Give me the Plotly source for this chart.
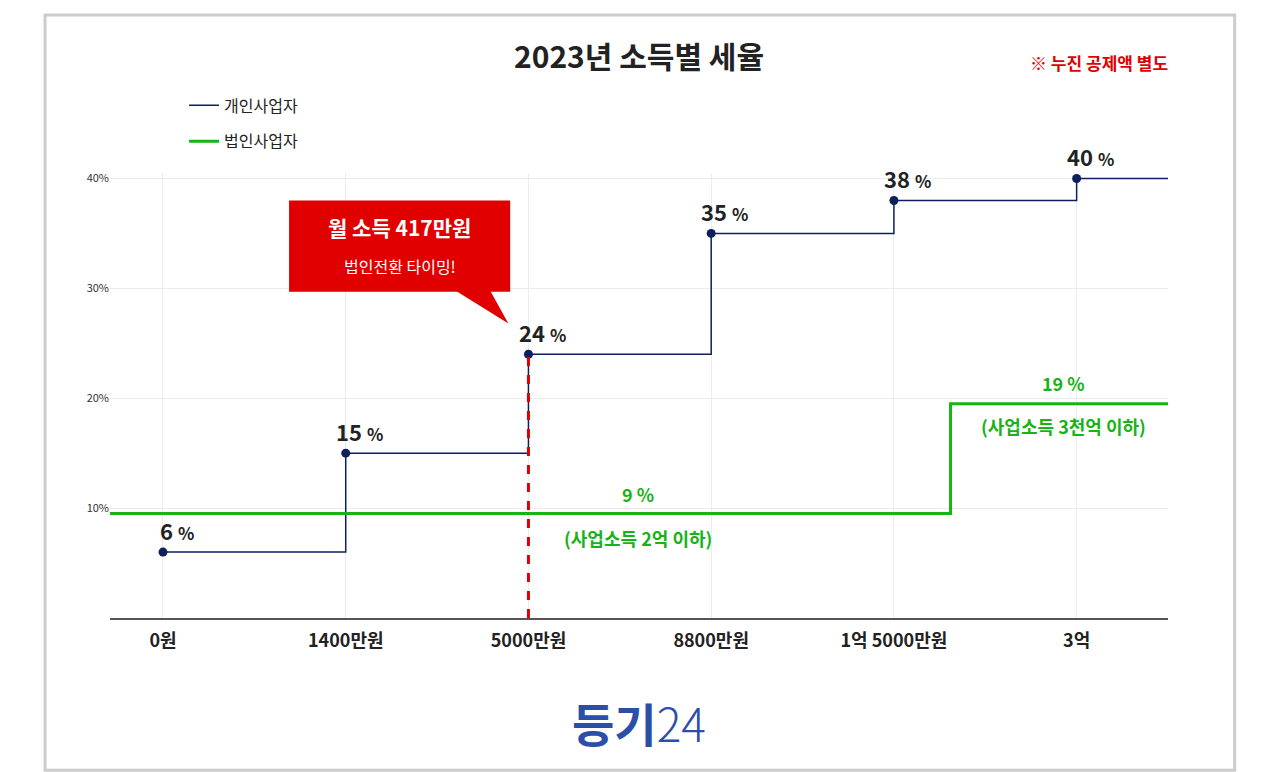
import plotly.graph_objects as go

cats = ["0원", "1400만원", "5000만원", "8800만원", "1억 5000만원", "3억"]
indiv_rates = [6, 15, 24, 35, 38, 40]
corp_x = [-0.29, 4.31, 5.55]
corp_rates = [9.5, 19.5, 19.5]
y_ticks = [10, 20, 30, 40]
y_ticktext = ["10%", "20%", "30%", "40%"]

F = "Noto Sans CJK KR"
navy = "#0d1f5c"
green = "#17b317"
red = "#e00000"

xs = list(range(len(cats))) + [5.55]
ys = indiv_rates + [indiv_rates[-1]]

fig = go.Figure()
fig.add_trace(go.Scatter(x=xs, y=ys, mode="lines", line=dict(color=navy, width=1.5, shape="hv"),
                         name="개인사업자", legendgroup="a", cliponaxis=False))
fig.add_trace(go.Scatter(x=corp_x, y=corp_rates, mode="lines", line=dict(color=green, width=3, shape="hv"),
                         name="법인사업자", legendgroup="b", cliponaxis=False))
fig.add_trace(go.Scatter(x=list(range(len(cats))), y=indiv_rates, mode="markers",
                         marker=dict(color=navy, size=9), showlegend=False, cliponaxis=False))

ann = []
shapes = [dict(type="line", x0=2, x1=2, y0=0, y1=indiv_rates[2], line=dict(color=red, width=3, dash="dash"))]
for i, v in enumerate(indiv_rates):
    ann.append(dict(x=i + 0.075, y=v, text=f"<b>{v}</b> <span style='font-size:17px'><b>%</b></span>",
                    showarrow=False, yshift=22, font=dict(family=F, size=22, color="#222")))

ann += [
    dict(x=2.6, y=11.3, text="<b>9 %</b>", showarrow=False, font=dict(family=F, size=18, color=green)),
    dict(x=2.6, y=7.3, text="<b>(사업소득 2억 이하)</b>", showarrow=False, font=dict(family=F, size=18, color=green)),
    dict(x=4.93, y=21.4, text="<b>19 %</b>", showarrow=False, font=dict(family=F, size=18, color=green)),
    dict(x=4.93, y=17.5, text="<b>(사업소득 3천억 이하)</b>", showarrow=False, font=dict(family=F, size=18, color=green)),
    dict(x=1.295, y=35.6, text="<b>월 소득 417만원</b>", showarrow=False, font=dict(family=F, size=21, color="white")),
    dict(x=1.295, y=32.0, text="법인전환 타이밍!", showarrow=False, font=dict(family=F, size=16, color="white")),
    dict(xref="paper", yref="paper", x=0.5, y=1.265, xanchor="center", yanchor="middle",
         text="<b>2023년 소득별 세율</b>", showarrow=False, font=dict(family=F, size=30, color="#222")),
    dict(xref="paper", yref="paper", x=1.002, y=1.249, xanchor="right", yanchor="middle",
         text="<b>※ 누진 공제액 별도</b>", showarrow=False, font=dict(family=F, size=17, color=red)),
    dict(xref="paper", yref="paper", x=0.5, y=-0.234, xanchor="center", yanchor="middle",
         text="<b>등기</b><span style='font-weight:300'>24</span>",
         showarrow=False, font=dict(family=F, size=46, color="#2b4fa8")),
]
shapes += [
    dict(type="rect", x0=0.69, x1=1.90, y0=29.7, y1=38.0, fillcolor=red, line=dict(width=0), layer="above"),
    dict(type="path", path="M 1.60 29.8 L 1.89 26.8 L 1.79 29.8 Z", fillcolor=red, line=dict(width=0)),
    dict(type="rect", xref="paper", yref="paper", x0=-0.0614, x1=1.063, y0=-0.342, y1=1.355,
         line=dict(color="#cccccc", width=3), layer="below"),
]

fig.update_layout(
    width=1280, height=772,
    paper_bgcolor="white", plot_bgcolor="white",
    margin=dict(l=110, r=112, t=173, b=154),
    showlegend=True,
    legend=dict(x=0.07, y=1.19, xanchor="left", yanchor="top",
                font=dict(family=F, size=16, color="#222"), tracegroupgap=12, bgcolor="rgba(0,0,0,0)"),
    annotations=ann, shapes=shapes,
)
fig.update_xaxes(range=[-0.29, 5.5], tickvals=list(range(len(cats))), ticktext=[f"<b>{c}</b>" for c in cats],
                 showgrid=True, gridcolor="#ececec", zeroline=False, showline=True, linecolor="#555", linewidth=1.5,
                 tickfont=dict(family=F, size=18, color="#222"), ticks="", ticklabelstandoff=6)
fig.update_yaxes(range=[0, 40.5], tickvals=y_ticks, ticktext=y_ticktext, showgrid=True, gridcolor="#ececec",
                 zeroline=False, tickfont=dict(family=F, size=11, color="#333"))
fig.write_html("out.html", config={"displayModeBar": False})
with open("out.html", encoding="utf-8") as f:
    html = f.read()
html = html.replace("<head>", "<head><style>html,body{margin:0;padding:0;overflow:hidden}</style>", 1)
with open("out.html", "w", encoding="utf-8") as f:
    f.write(html)
